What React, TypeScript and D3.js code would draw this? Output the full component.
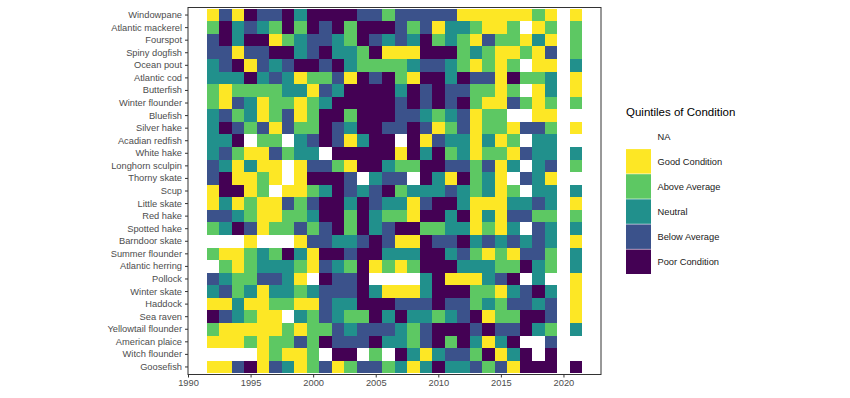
import { useEffect, useRef } from 'react';
import * as d3 from 'd3';

// Species shown top to bottom
const species = [
  'Windowpane', 'Atlantic mackerel', 'Fourspot', 'Spiny dogfish', 'Ocean pout',
  'Atlantic cod', 'Butterfish', 'Winter flounder', 'Bluefish', 'Silver hake',
  'Acadian redfish', 'White hake', 'Longhorn sculpin', 'Thorny skate', 'Scup',
  'Little skate', 'Red hake', 'Spotted hake', 'Barndoor skate', 'Summer flounder',
  'Atlantic herring', 'Pollock', 'Winter skate', 'Haddock', 'Sea raven',
  'Yellowtail flounder', 'American plaice', 'Witch flounder', 'Goosefish',
];

const years = [
  1992, 1993, 1994, 1995, 1996, 1997, 1998, 1999, 2000, 2001,
  2002, 2003, 2004, 2005, 2006, 2007, 2008, 2009, 2010, 2011,
  2012, 2013, 2014, 2015, 2016, 2017, 2018, 2019, 2020, 2021,
];

// One letter per year: G good, A above, N neutral, B below, P poor, _ missing
const conditions = [
  'GBGPBBPNPPPPBBABBBBBGGGGGGAG_G',
  'APNBNAPAPBPAPPPBABGNNAGGA_GA_A',
  'BPNPPGANBBNAPBNBNPANAGBAAGNG_A',
  'BBGBBPPNBPNNAPGGGPPPANAGGAGB_A',
  'NBPGBNBPPBPNAAAANBBNAGAGA_GG_N',
  'NNNPNBNGAABGPBPAGPPNPBBGPAAN_G',
  'AGAAAANNGBNPPPPNPBPBBAAGA_GN_G',
  'AGBNGAAGANPPPPPBPBPBPAGGBAGA_A',
  'NBANGABGAPPAPPPBBNANBGAA__GG__',
  'NPBABGBAAPBNPPBBPBGABGAAGBBA_G',
  'NNP_AA_NBPBGNPP_PGBNNGNGA_NN__',
  'NBAGGBANN_PPPPPGPNPANGAAGBNN_N',
  'BNGNGG_GBBAGPPNAAPPBBABGN_NB_A',
  'BPGGAG_GPPPB_NBB_PNGPANG_BNG__',
  'GPPGA_GGANPBNBPANNNBNANGA_NN_N',
  'GNGAGGBABPPNPBNNGBPPNGGGNNBN_G',
  'BBNAGGAANPPAPNAAGPPNPGNGBBAA_A',
  'ANPBGAABABPAPNBPPAANNGAGN_BN_N',
  '___G___GBBNNBPBGGPBBPNBNBNBN_G',
  'AGGANAPNGPPBPPNNNPPNBAGAGBBA_N',
  '_AGANNNAGBNAPGAGAPPPNNNAAPNA_N',
  'BNAABBNG_PBBP____NPGGGNBP_N__G',
  'NBANGNNANBBBPNGGGNPPPAAGNBPN_G',
  'GGNGGAAGGBNNPPPBBBPBBANABBNB_G',
  'PBNAGG_NABNAAPNPNNANBPGAAPPB_G',
  'AGGGGGAGAABNBBBNABPPPBPBBPNA_N',
  'GGGAGAABAPBBBPNNABPAPNGNP__B__',
  '____GAGGA_PP_A_PNGNBBAPGNP_P__',
  'GGBPGBNGABGABBANGNPNNBABGPPP_P',
];

const levelCodes = ['G', 'A', 'N', 'B', 'P'];
const levelLabels = ['Good Condition', 'Above Average', 'Neutral', 'Below Average', 'Poor Condition'];
const levelColors = ['#FDE725', '#5DC863', '#21908C', '#3B528B', '#440154'];

const xTicks = [1990, 1995, 2000, 2005, 2010, 2015, 2020];

const App = () => {
  const svgRef = useRef<SVGSVGElement | null>(null);

  useEffect(() => {
    const width = 850;
    const height = 398;
    const panelLeft = 188;
    const panelRight = 601;
    const panelTop = 7.5;
    const panelBottom = 374.5;
    const font = '"Liberation Sans", Arial, sans-serif';

    const svg = d3.select(svgRef.current)
      .attr('width', width)
      .attr('height', height)
      .attr('viewBox', [0, 0, width, height])
      .style('font-family', font);
    svg.selectAll('*').remove();

    svg.append('rect').attr('width', width).attr('height', height).attr('fill', 'white');

    const x = d3.scaleLinear().domain([1990, 2023]).range([panelLeft, panelRight]);
    const y = d3.scaleBand<string>()
      .domain(species)
      .range([panelTop, panelBottom])
      .paddingInner(0)
      .paddingOuter(0.1);
    const color = d3.scaleOrdinal<string, string>().domain(levelCodes).range(levelColors);

    // flatten into cells, skipping missing years
    const cells: { sp: string; year: number; code: string }[] = [];
    species.forEach((sp, i) => {
      years.forEach((yr, j) => {
        const code = conditions[i][j];
        if (code !== '_') cells.push({ sp, year: yr, code });
      });
    });

    svg.append('g')
      .selectAll('rect')
      .data(cells)
      .join('rect')
      .attr('x', d => x(d.year - 0.5))
      .attr('y', d => y(d.sp) as number)
      .attr('width', d => x(d.year + 0.5) - x(d.year - 0.5))
      .attr('height', y.bandwidth())
      .attr('fill', d => color(d.code))
      .attr('shape-rendering', 'crispEdges');

    // panel border
    svg.append('rect')
      .attr('x', panelLeft)
      .attr('y', panelTop)
      .attr('width', panelRight - panelLeft)
      .attr('height', panelBottom - panelTop)
      .attr('fill', 'none')
      .attr('stroke', '#333333')
      .attr('stroke-width', 1);

    // y axis
    svg.append('g')
      .attr('transform', `translate(${panelLeft},0)`)
      .call(d3.axisLeft(y).tickSize(3).tickPadding(3))
      .call(g => g.select('.domain').remove())
      .call(g => g.selectAll('line').attr('stroke', '#333333'))
      .call(g => g.selectAll('text')
        .attr('fill', '#4D4D4D')
        .style('font-size', '9.3px')
        .style('font-family', font));

    // x axis
    svg.append('g')
      .attr('transform', `translate(0,${panelBottom})`)
      .call(d3.axisBottom(x).tickValues(xTicks).tickFormat(d3.format('d')).tickSize(3).tickPadding(2))
      .call(g => g.select('.domain').remove())
      .call(g => g.selectAll('line').attr('stroke', '#333333'))
      .call(g => g.selectAll('text')
        .attr('fill', '#4D4D4D')
        .style('font-size', '9.3px')
        .style('font-family', font));

    // legend
    const legend = svg.append('g').attr('transform', 'translate(626,0)');
    legend.append('text')
      .attr('x', 0)
      .attr('y', 116)
      .attr('fill', 'black')
      .style('font-size', '11.5px')
      .text('Quintiles of Condition');

    const keyTop = 124;
    const keyH = 25.1;
    const keyW = 25;
    const legendItems = ['NA', ...levelLabels];
    const legendColors = ['white', ...levelColors];
    legendItems.forEach((lab, i) => {
      legend.append('rect')
        .attr('x', 0)
        .attr('y', keyTop + i * keyH)
        .attr('width', keyW)
        .attr('height', keyH - 0.6)
        .attr('fill', legendColors[i]);
      legend.append('text')
        .attr('x', 31.5)
        .attr('y', keyTop + i * keyH + keyH / 2)
        .attr('dy', '0.35em')
        .attr('fill', '#1a1a1a')
        .style('font-size', '9.3px')
        .text(lab);
    });
  }, []);

  return (
    <div style={{ position: 'absolute', left: 0, top: 0 }}>
      <svg ref={svgRef}></svg>
    </div>
  );
};

export default App;
